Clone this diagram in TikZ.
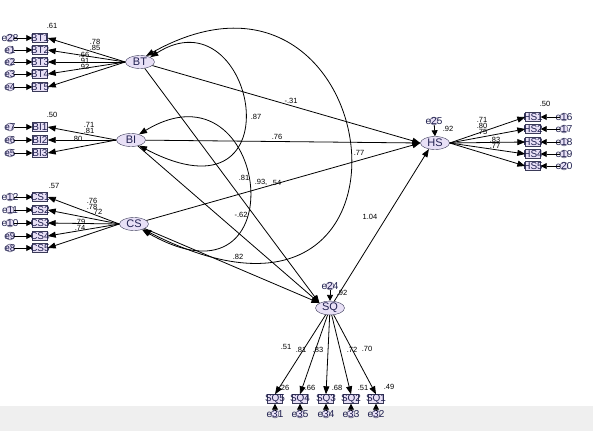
\documentclass[tikz,border=0pt]{standalone}
\usepackage{fontspec}
\setmainfont{Liberation Sans}
\usetikzlibrary{arrows.meta}
\usetikzlibrary{shapes.geometric}
\usetikzlibrary{calc}
\definecolor{pLav}{HTML}{E8E0F6}
\definecolor{pEdge}{HTML}{3A3A58}
\definecolor{pText}{HTML}{202050}
\definecolor{pBand}{HTML}{EFEFEF}

\tikzset{
  lat/.style={ellipse, draw=pEdge, fill=pLav, minimum width=29pt, minimum height=13pt, inner sep=0pt, text=pText, font=\fontsize{11}{11}\selectfont},
  obs/.style={rectangle, draw=pEdge, fill=pLav, minimum width=15pt, minimum height=9pt, inner sep=0pt, text=pText, font=\fontsize{10}{10}\selectfont},
  err/.style={circle, draw=pEdge, fill=pLav, minimum size=8pt, inner sep=0pt, text=pText, font=\fontsize{10}{10}\selectfont},
  lab/.style={inner sep=0pt, font=\fontsize{7.5}{7.5}\selectfont},
  reg/.style={-{Triangle[length=8pt,width=6pt]}, line width=0.8pt},
  errarr/.style={-{Triangle[length=6pt,width=6pt]}, line width=0.8pt},
  cov/.style={{Triangle[length=8pt,width=6pt]}-{Triangle[length=8pt,width=6pt]}, line width=0.8pt},
}

\begin{document}
\begin{tikzpicture}[x=1pt, y=-1pt]
  \useasboundingbox (0,0) rectangle (593,431);
  \fill[pBand] (0,406) rectangle (593,431);

  % latent variables
  \node[lat] (BT) at (140,62) {BT};
  \node[lat] (BI) at (131,140) {BI};
  \node[lat] (CS) at (134,224) {CS};
  \node[lat] (HS) at (435,143) {HS};
  \node[lat] (SQ) at (330,308) {SQ};

  % measurement part, left side
  \foreach \i/\y/\en in {1/38/e28, 2/50/e1, 3/62/e2, 4/74/e3, 5/87/e4} {
    \node[obs] (bt\i) at (40,\y) {\makebox[0pt]{BT\i}};
    \node[err] (bt-e\i) at (10,\y) {\makebox[0pt]{\en}};
    \draw[errarr] (bt-e\i) -- (bt\i);
    \draw[reg] (BT.west) -- (bt\i.east);
  }
  \foreach \i/\y/\en in {1/127/e7, 2/140/e6, 3/153/e5} {
    \node[obs] (bi\i) at (40,\y) {\makebox[0pt]{BI\i}};
    \node[err] (bi-e\i) at (10,\y) {\makebox[0pt]{\en}};
    \draw[errarr] (bi-e\i) -- (bi\i);
    \draw[reg] (BI.west) -- (bi\i.east);
  }
  \foreach \i/\y/\en in {1/197/e12, 2/210/e11, 3/223/e10, 4/236/e9, 5/248/e8} {
    \node[obs] (cs\i) at (40,\y) {\makebox[0pt]{CS\i}};
    \node[err] (cs-e\i) at (10,\y) {\makebox[0pt]{\en}};
    \draw[errarr] (cs-e\i) -- (cs\i);
    \draw[reg] (CS.west) -- (cs\i.east);
  }

  % measurement part, HS and SQ
  \foreach \i/\y/\en in {1/117/e16, 2/129/e17, 3/142/e18, 4/154/e19, 5/166/e20} {
    \node[obs] (hs\i) at (533,\y) {\makebox[0pt]{HS\i}};
    \node[err] (hs-e\i) at (564,\y) {\makebox[0pt]{\en}};
    \draw[errarr] (hs-e\i) -- (hs\i);
    \draw[reg] (HS.east) -- (hs\i.west);
  }
  \foreach \i/\x/\en in {5/275/e31, 4/300/e35, 3/326/e34, 2/351/e33, 1/376/e32} {
    \node[obs] (sq\i) at (\x,399) {\makebox[0pt]{SQ\i}};
    \node[err] (sq-e\i) at (\x,414) {\makebox[0pt]{\en}};
    \draw[errarr] (sq-e\i) -- (sq\i);
    \draw[reg] (SQ) -- (sq\i.north);
  }

  % disturbances
  \node[err] (hs-d) at (434,121) {\makebox[0pt]{e25}};
  \node[err] (sq-d) at (330,286) {\makebox[0pt]{e24}};
  \draw[errarr] (hs-d) -- (HS.north);
  \draw[errarr] (sq-d) -- (SQ.north);

  % structural paths
  \draw[reg] (BT) -- (HS.west);
  \draw[reg] (BI) -- (HS.west);
  \draw[reg] (CS) -- (HS.west);
  \draw[reg] (SQ) -- (HS.225);
  \draw[reg] (BT) -- (SQ.155);
  \draw[reg] (BI) -- (SQ.155);
  \draw[reg] (CS) -- (SQ.155);

  % covariances
  \draw[cov] (BT.25) .. controls (255,-10) and (300,230) .. (BI.-35);
  \draw[cov] (BI.35) .. controls (270,55) and (300,320) .. (CS.-35);
  \draw[cov] (BT.45) .. controls (390,-80) and (446,384) .. (CS.-30);

  % estimates
  \node[lab] (r-bt) at (52,26) {.61};
  \node[lab] (l-bt1) at (95,42) {.78};
  \node[lab] (l-bt2) at (95,48) {.85};
  \node[lab] (l-bt3) at (84,55) {.66};
  \node[lab] (l-bt4) at (84,61) {.91};
  \node[lab] (l-bt5) at (84,67) {.92};
  \node[lab] (r-bi) at (52,115) {.50};
  \node[lab] (l-bi1) at (89,125) {.71};
  \node[lab] (l-bi2) at (89,131) {.81};
  \node[lab] (l-bi3) at (77,139) {.80};
  \node[lab] (r-cs) at (54,186) {.57};
  \node[lab] (l-cs1) at (92,201) {.76};
  \node[lab] (l-cs2) at (92,207) {.78};
  \node[lab] (l-cs3) at (97,212) {.72};
  \node[lab] (l-cs4) at (80,222) {.79};
  \node[lab] (l-cs5) at (80,228) {.74};
  \node[lab] (r-hs) at (545,104) {.50};
  \node[lab] (l-hs1) at (482,120) {.71};
  \node[lab] (l-hs2) at (482,126) {.80};
  \node[lab] (l-hs3) at (482,132) {.75};
  \node[lab] (l-hs4) at (495,140) {.83};
  \node[lab] (l-hs5) at (495,146) {.77};
  \node[lab] (r-hs-d) at (448,129) {.92};
  \node[lab] (r-sq-d) at (342,293) {.92};
  \node[lab] (l-sq5) at (286,347) {.51};
  \node[lab] (l-sq4) at (301,350) {.81};
  \node[lab] (l-sq3) at (318,350) {.83};
  \node[lab] (l-sq2) at (352,350) {.72};
  \node[lab] (l-sq1) at (367,349) {.70};
  \node[lab] (r-sq5) at (284,388) {.26};
  \node[lab] (r-sq4) at (310,388) {.66};
  \node[lab] (r-sq3) at (337,388) {.68};
  \node[lab] (r-sq2) at (363,388) {.51};
  \node[lab] (r-sq1) at (389,387) {.49};
  \node[lab] (p-bt-hs) at (291,101) {-.31};
  \node[lab] (c-bt-bi) at (256,117) {.87};
  \node[lab] (p-bi-hs) at (277,137) {.76};
  \node[lab] (c-bt-cs) at (359,153) {.77};
  \node[lab] (p-bt-sq) at (244,178) {.81};
  \node[lab] (p-bi-sq) at (261,182) {.93,};
  \node[lab] (p-cs-hs) at (276,183) {.54};
  \node[lab] (c-bi-cs) at (241,215) {-.62};
  \node[lab] (p-cs-sq) at (238,257) {.82};
  \node[lab] (p-sq-hs) at (370,217) {1.04};
\end{tikzpicture}
\end{document}
